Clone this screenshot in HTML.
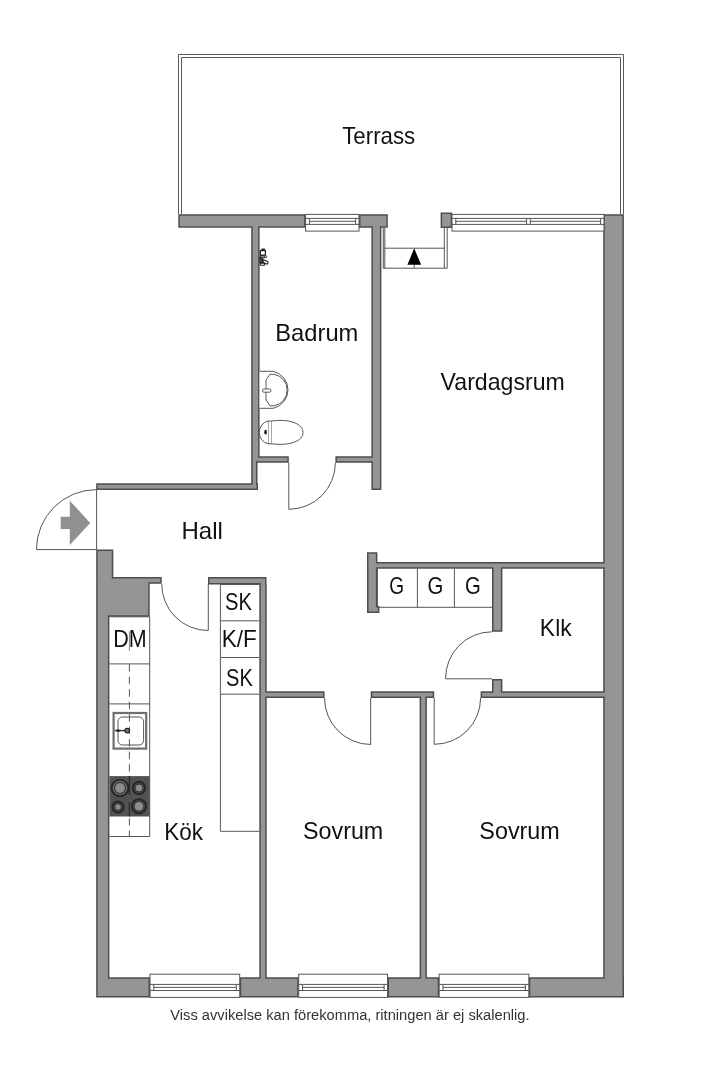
<!DOCTYPE html>
<html><head><meta charset="utf-8"><style>
html,body{margin:0;padding:0;background:#fff;}
body{width:720px;height:1080px;overflow:hidden;position:relative;font-family:"Liberation Sans",sans-serif;}
svg{position:absolute;left:0;top:0;display:block;}
.t{will-change:transform;}
</style></head><body>
<svg width="720" height="1080" viewBox="0 0 720 1080">
<path d="M178.5 214 V54.5 H623.5 V214" fill="none" stroke="#5a5a5a" stroke-width="1"/>
<path d="M181.5 214 V57.5 H620.5 V214" fill="none" stroke="#5a5a5a" stroke-width="1"/>
<path d="M501.65 567.95 L603.95 567.95 L603.95 691.95 L501.65 691.95 L501.65 679.75 L492.75 679.75 L492.75 691.95 L481.35 691.95 L481.35 697.25 L603.95 697.25 L603.95 978.05 L529.55 978.05 L529.55 996.75 L623.25 996.75 L623.25 978.05 L623.15 978.05 L623.15 214.95 L603.95 214.95 L603.95 562.75 L376.65 562.75 L376.65 552.95 L367.75 552.95 L367.75 612.25 L378.65 612.25 L378.65 606.75 L376.65 606.75 L376.65 567.95 L492.75 567.95 L492.75 631.05 L501.65 631.05 Z M441.35 213.35 L441.35 227.15 L451.45 227.15 L451.45 213.35 Z M388.25 978.05 L388.25 996.75 L438.45 996.75 L438.45 978.05 L426.15 978.05 L426.15 697.25 L433.45 697.25 L433.45 691.95 L371.45 691.95 L371.45 697.25 L420.35 697.25 L420.35 978.05 Z M336.15 456.95 L336.15 461.95 L372.15 461.95 L372.15 489.25 L380.65 489.25 L380.65 226.95 L387.05 226.95 L387.05 214.95 L359.75 214.95 L359.75 226.95 L372.15 226.95 L372.15 456.95 Z M265.95 584.75 L265.75 584.75 L265.75 577.75 L208.75 577.75 L208.75 583.75 L260.05 583.75 L260.05 978.05 L240.45 978.05 L240.45 996.75 L297.95 996.75 L297.95 978.05 L265.95 978.05 L265.95 697.25 L323.75 697.25 L323.75 691.95 L265.95 691.95 Z M179.05 226.95 L251.95 226.95 L251.95 484.05 L96.95 484.05 L96.95 489.25 L257.25 489.25 L257.25 484.05 L256.75 484.05 L256.75 461.95 L288.05 461.95 L288.05 456.95 L258.85 456.95 L258.85 226.95 L304.85 226.95 L304.85 214.95 L179.05 214.95 Z M96.95 550.35 L96.95 996.75 L149.25 996.75 L149.25 978.05 L108.65 978.05 L108.65 616.05 L148.95 616.05 L148.95 582.95 L160.95 582.95 L160.95 577.75 L112.55 577.75 L112.55 550.35 Z" fill="#939596" stroke="#4c4d4f" stroke-width="1.5" fill-rule="evenodd" stroke-linejoin="miter"/>
<rect x="305.60" y="214.40" width="53.40" height="16.70" fill="#fff" stroke="#555" stroke-width="1"/>
<line x1="305.60" y1="218.40" x2="359.00" y2="218.40" stroke="#555" stroke-width="1"/>
<line x1="305.60" y1="224.40" x2="359.00" y2="224.40" stroke="#555" stroke-width="1"/>
<path d="M309.40 218.40 V224.40 M355.60 218.40 V224.40" stroke="#555" stroke-width="1" fill="none"/>
<line x1="309.40" y1="221.30" x2="355.60" y2="221.30" stroke="#555" stroke-width="1"/>
<rect x="452.00" y="214.40" width="152.00" height="16.70" fill="#fff" stroke="#555" stroke-width="1"/>
<line x1="452.00" y1="218.40" x2="604.00" y2="218.40" stroke="#555" stroke-width="1"/>
<line x1="452.00" y1="224.40" x2="604.00" y2="224.40" stroke="#555" stroke-width="1"/>
<path d="M455.80 218.40 V224.40 M526.60 218.40 V224.40" stroke="#555" stroke-width="1" fill="none"/>
<line x1="455.80" y1="221.30" x2="526.60" y2="221.30" stroke="#555" stroke-width="1"/>
<path d="M530.30 218.40 V224.40 M600.60 218.40 V224.40" stroke="#555" stroke-width="1" fill="none"/>
<line x1="530.30" y1="221.30" x2="600.60" y2="221.30" stroke="#555" stroke-width="1"/>
<rect x="150.00" y="974.20" width="89.70" height="23.20" fill="#fff" stroke="#555" stroke-width="1"/>
<line x1="150.00" y1="984.40" x2="239.70" y2="984.40" stroke="#555" stroke-width="1"/>
<line x1="150.00" y1="990.50" x2="239.70" y2="990.50" stroke="#555" stroke-width="1"/>
<path d="M153.80 984.40 V990.50 M236.30 984.40 V990.50" stroke="#555" stroke-width="1" fill="none"/>
<line x1="153.80" y1="987.40" x2="236.30" y2="987.40" stroke="#555" stroke-width="1"/>
<rect x="298.70" y="974.20" width="88.80" height="23.20" fill="#fff" stroke="#555" stroke-width="1"/>
<line x1="298.70" y1="984.40" x2="387.50" y2="984.40" stroke="#555" stroke-width="1"/>
<line x1="298.70" y1="990.50" x2="387.50" y2="990.50" stroke="#555" stroke-width="1"/>
<path d="M302.50 984.40 V990.50 M384.10 984.40 V990.50" stroke="#555" stroke-width="1" fill="none"/>
<line x1="302.50" y1="987.40" x2="384.10" y2="987.40" stroke="#555" stroke-width="1"/>
<rect x="439.20" y="974.20" width="89.60" height="23.20" fill="#fff" stroke="#555" stroke-width="1"/>
<line x1="439.20" y1="984.40" x2="528.80" y2="984.40" stroke="#555" stroke-width="1"/>
<line x1="439.20" y1="990.50" x2="528.80" y2="990.50" stroke="#555" stroke-width="1"/>
<path d="M443.00 984.40 V990.50 M525.40 984.40 V990.50" stroke="#555" stroke-width="1" fill="none"/>
<line x1="443.00" y1="987.40" x2="525.40" y2="987.40" stroke="#555" stroke-width="1"/>
<g stroke="#555" stroke-width="1" fill="none">
<line x1="383.3" y1="227.7" x2="383.3" y2="268.2"/>
<line x1="384.8" y1="227.7" x2="384.8" y2="268.2"/>
<line x1="444.3" y1="227.9" x2="444.3" y2="268.2"/>
<line x1="447.2" y1="227.9" x2="447.2" y2="268.2"/>
<line x1="384.8" y1="248.2" x2="444.3" y2="248.2"/>
<line x1="383.3" y1="268.2" x2="447.2" y2="268.2"/>
<line x1="414.2" y1="264" x2="414.2" y2="268.2"/>
</g>
<path d="M414.2 248.3 L421.1 264.7 L407.4 264.7 Z" fill="#000"/>
<line x1="288.8" y1="462.7" x2="288.8" y2="509.3" stroke="#555" stroke-width="1"/><path d="M288.8 509.3 A46.60 46.60 0 0 0 335.4 462.7" fill="none" stroke="#555" stroke-width="1"/>
<line x1="96.5" y1="549.6" x2="36.4" y2="549.6" stroke="#555" stroke-width="1"/><path d="M36.4 549.6 A60.10 60.10 0 0 1 96.5 489.6" fill="none" stroke="#555" stroke-width="1"/>
<line x1="96.6" y1="489.5" x2="96.6" y2="549.6" stroke="#555" stroke-width="1"/>
<line x1="208.3" y1="584.0" x2="208.3" y2="630.5" stroke="#555" stroke-width="1"/><path d="M208.3 630.5 A46.50 46.50 0 0 1 161.7 583.7" fill="none" stroke="#555" stroke-width="1"/>
<line x1="492.0" y1="678.8" x2="445.6" y2="678.8" stroke="#555" stroke-width="1"/><path d="M445.6 678.8 A46.40 46.40 0 0 1 492.0 631.8" fill="none" stroke="#555" stroke-width="1"/>
<line x1="370.7" y1="698.0" x2="370.7" y2="744.5" stroke="#555" stroke-width="1"/><path d="M370.7 744.5 A46.50 46.50 0 0 1 324.5 698.0" fill="none" stroke="#555" stroke-width="1"/>
<line x1="434.2" y1="698.0" x2="434.2" y2="744.3" stroke="#555" stroke-width="1"/><path d="M434.2 744.3 A46.30 46.30 0 0 0 480.6 698.0" fill="none" stroke="#555" stroke-width="1"/>
<path d="M60.7 516.7 H69.8 V500.7 L90.2 522.9 L69.8 545.1 V528.9 H60.7 Z" fill="#8e9092"/>
<g stroke="#555" stroke-width="1" fill="none">
<path d="M109.4 616.8 H149.7 V836.5 H109.4"/>
<line x1="109.4" y1="663.9" x2="149.7" y2="663.9"/>
<line x1="109.4" y1="703.9" x2="149.7" y2="703.9"/>
<line x1="129.4" y1="631.2" x2="129.4" y2="650.8" stroke="#888"/>
</g>
<rect x="113.6" y="713.0" width="32.6" height="35.6" fill="#fff" stroke="#6e6e6e" stroke-width="2.2"/>
<rect x="118.0" y="717.0" width="25.6" height="28.0" rx="4.5" fill="#fff" stroke="#555" stroke-width="1"/>
<line x1="129.4" y1="664.2" x2="129.4" y2="776" stroke="#555" stroke-width="1" stroke-dasharray="7.5 5"/>
<line x1="129.4" y1="816.5" x2="129.4" y2="836" stroke="#555" stroke-width="1" stroke-dasharray="7 5" stroke-dashoffset="-2"/>
<line x1="114.8" y1="730.6" x2="125.5" y2="730.6" stroke="#333" stroke-width="1.4"/>
<rect x="116.6" y="729.6" width="3" height="2" fill="#111"/>
<circle cx="127.3" cy="730.6" r="2.3" fill="#777" stroke="#222" stroke-width="1.2"/>
<rect x="109.4" y="776.1" width="40.3" height="40.4" fill="#525252"/>
<line x1="129.4" y1="776" x2="129.4" y2="795" stroke="#222" stroke-width="1"/>
<line x1="129.4" y1="802" x2="129.4" y2="816.5" stroke="#222" stroke-width="1"/>
<g stroke="#262626" fill="#4a4a4a">
<circle cx="120.0" cy="788.0" r="8.4" stroke-width="1.8"/>
<circle cx="139.0" cy="788.0" r="6.2" stroke-width="2"/>
<circle cx="118.0" cy="807.0" r="5.6" stroke-width="2"/>
<circle cx="139.0" cy="806.3" r="7.1" stroke-width="2"/>
</g>
<circle cx="120.0" cy="788.0" r="6.6" fill="none" stroke="#777" stroke-width="0.8"/>
<g fill="#8c8c8c" stroke="#333" stroke-width="1">
<circle cx="120.0" cy="788.0" r="5.4"/>
<circle cx="139.0" cy="788.0" r="4.0"/>
<circle cx="118.0" cy="807.0" r="3.3"/>
<circle cx="139.0" cy="806.3" r="4.8"/>
</g>
<g stroke="#555" stroke-width="1" fill="none">
<path d="M259.3 584.5 H220.4 V831.3 H259.3"/>
<line x1="220.4" y1="620.8" x2="259.3" y2="620.8"/>
<line x1="220.4" y1="657.5" x2="259.3" y2="657.5"/>
<line x1="220.4" y1="694.2" x2="259.3" y2="694.2"/>
</g>
<g stroke="#555" stroke-width="1" fill="none">
<path d="M377.4 568.7 V607.3 H492"/>
<line x1="417.4" y1="568.7" x2="417.4" y2="607.3"/>
<line x1="454.4" y1="568.7" x2="454.4" y2="607.3"/>
</g>
<g stroke="#555" stroke-width="1" fill="#fff">
<path d="M259.6 371.3 H273.3 A19 19 0 0 1 273.3 408.3 H259.6"/>
<path d="M266 380 L270 374.3 H274 A16 16 0 0 1 274 405.8 H270 L266 400 Z"/>
<rect x="262.4" y="389" width="8.6" height="3.2" rx="1.6"/>
</g>
<g stroke="#555" stroke-width="1" fill="#fff">
<path d="M268 421 H272 V443.8 H268 Z"/>
<path d="M268 421.2 A10 11.3 0 0 0 268 443.6"/>
<path d="M272 421 C290 418.5 303 424 303 432.4 C303 441 290 446 272 443.8"/>
</g>
<ellipse cx="265.6" cy="432.2" rx="1.4" ry="2.4" fill="#222"/>
<g stroke="#1e1e1e" fill="#fff">
<rect x="261.3" y="248.4" width="3.8" height="1.8" rx="0.6" fill="#2a2a2a" stroke="none"/>
<rect x="260.4" y="250.6" width="5.0" height="4.6" stroke-width="1.2"/>
<rect x="259.9" y="255.9" width="5.0" height="1.9" rx="0.9" stroke-width="1.1"/>
<circle cx="265.6" cy="256.7" r="1.1" stroke-width="0.9"/>
<rect x="259.8" y="258.0" width="2.6" height="4.6" fill="#444" stroke="#1e1e1e" stroke-width="0.9"/>
<path d="M262.8 259.4 L267.6 261.4 Q268.8 263 267.0 264.2 L263.4 262.6 Z" stroke-width="1.1"/>
<rect x="260.2" y="263.3" width="4.6" height="2.0" rx="0.9" stroke-width="1.1"/>
</g>
</svg>
<svg class="t" width="720" height="1080" viewBox="0 0 720 1080">
<g font-family="Liberation Sans, sans-serif">
<text x="342.24" y="143.9" font-size="23.2" fill="#111" textLength="73.01" lengthAdjust="spacingAndGlyphs">Terrass</text>
<text x="275.3" y="340.7" font-size="23.2" fill="#111" textLength="83.08" lengthAdjust="spacingAndGlyphs">Badrum</text>
<text x="440.58" y="389.6" font-size="23.2" fill="#111" textLength="124.18" lengthAdjust="spacingAndGlyphs">Vardagsrum</text>
<text x="181.47" y="538.7" font-size="23.2" fill="#111" textLength="41.45" lengthAdjust="spacingAndGlyphs">Hall</text>
<text x="539.87" y="635.7" font-size="23.2" fill="#111" textLength="31.81" lengthAdjust="spacingAndGlyphs">Klk</text>
<text x="303.05" y="838.7" font-size="23.2" fill="#111" textLength="80.17" lengthAdjust="spacingAndGlyphs">Sovrum</text>
<text x="479.35" y="838.7" font-size="23.2" fill="#111" textLength="80.48" lengthAdjust="spacingAndGlyphs">Sovrum</text>
<text x="164.21" y="839.8" font-size="23.2" fill="#111" textLength="38.65" lengthAdjust="spacingAndGlyphs">Kök</text>
<text x="113.28" y="647.2" font-size="23.2" fill="#111" textLength="33.45" lengthAdjust="spacingAndGlyphs">DM</text>
<text x="224.99" y="610.0" font-size="23.2" fill="#111" textLength="26.89" lengthAdjust="spacingAndGlyphs">SK</text>
<text x="221.8" y="647.1" font-size="23.2" fill="#111" textLength="35.02" lengthAdjust="spacingAndGlyphs">K/F</text>
<text x="226.1" y="685.8" font-size="23.2" fill="#111" textLength="26.78" lengthAdjust="spacingAndGlyphs">SK</text>
<text x="389.35" y="594.4" font-size="23.2" fill="#111" textLength="14.85" lengthAdjust="spacingAndGlyphs">G</text>
<text x="427.48" y="594.3" font-size="23.2" fill="#111" textLength="15.8" lengthAdjust="spacingAndGlyphs">G</text>
<text x="464.98" y="594.3" font-size="23.2" fill="#111" textLength="15.8" lengthAdjust="spacingAndGlyphs">G</text>
<text x="170.33" y="1020.3" font-size="13.8" fill="#333" textLength="359.23" lengthAdjust="spacingAndGlyphs">Viss avvikelse kan förekomma, ritningen är ej skalenlig.</text>
</g>
</svg>
</body></html>
